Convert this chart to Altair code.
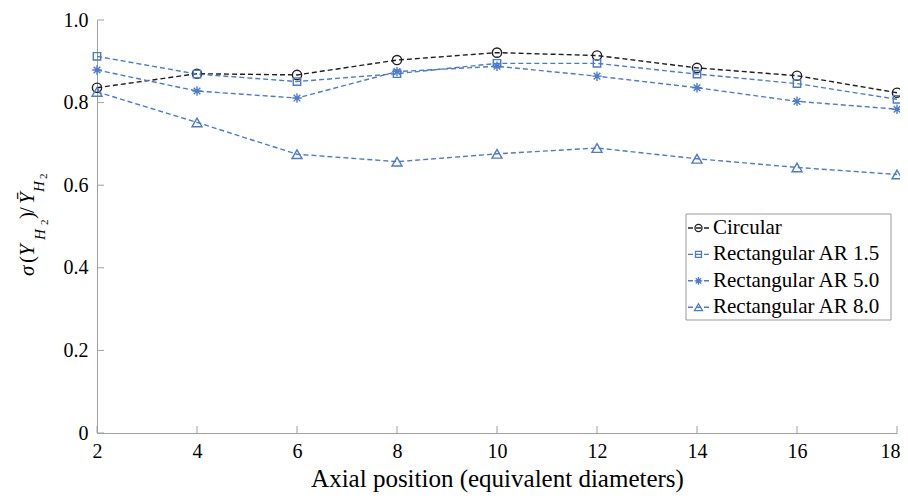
import altair as alt
import pandas as pd

# ---- data ----
x_pos = [2, 4, 6, 8, 10, 12, 14, 16, 18]
circular = [0.836, 0.870, 0.867, 0.903, 0.921, 0.914, 0.884, 0.865, 0.824]
ar15 = [0.912, 0.869, 0.851, 0.870, 0.895, 0.895, 0.869, 0.846, 0.808]
ar50 = [0.879, 0.828, 0.811, 0.875, 0.888, 0.864, 0.836, 0.803, 0.784]
ar80 = [0.826, 0.752, 0.675, 0.657, 0.676, 0.690, 0.664, 0.643, 0.626]

series_names = ["Circular", "Rectangular AR 1.5", "Rectangular AR 5.0", "Rectangular AR 8.0"]
series_values = [circular, ar15, ar50, ar80]
x_ticks = [2, 4, 6, 8, 10, 12, 14, 16, 18]
y_ticks = [0, 0.2, 0.4, 0.6, 0.8, 1.0]
x_title = "Axial position (equivalent diameters)"

# ---- styling ----
BLACK = "#1f1f1f"
BLUE = "#4a7bd0"
series_colors = [BLACK, BLUE, BLUE, BLUE]
ASTERISK = "M0,-1L0,1M-1,0L1,0M-0.7,-0.7L0.7,0.7M-0.7,0.7L0.7,-0.7"
shapes = ["circle", "square", ASTERISK, "triangle-up"]
plot_sizes = [85, 55, 90, 100]
legend_sizes = [50, 36, 60, 64]
FONT = "Liberation Serif"
GRAY = "#a0a0a0"
W, H = 800, 413

rows = []
for name, vals in zip(series_names, series_values):
    for xv, yv in zip(x_pos, vals):
        rows.append({"series": name, "x": xv, "y": yv})
df = pd.DataFrame(rows)

xs = alt.Scale(domain=[2, 18], nice=False, zero=False)
ys = alt.Scale(domain=[0, 1], nice=False, zero=False)
x_axis = alt.Axis(values=x_ticks, title=x_title, labelFlush=False,
                  labelPadding=8, titleBaseline="alphabetic", titleY=53,
                  labelAlign={"condition": {"test": "datum.value >= 18", "value": "right"}, "value": "center"},
                  labelOffset={"condition": {"test": "datum.value >= 18", "value": 3}, "value": 0})
y_axis = alt.Axis(values=y_ticks, title=None, labelPadding=9,
                  labelExpr="datum.value == 0 ? '0' : format(datum.value, '.1f')")

base = alt.Chart(df)

lines = base.mark_line(strokeDash=[5, 3], strokeWidth=1.4).encode(
    x=alt.X("x:Q", scale=xs, axis=x_axis),
    y=alt.Y("y:Q", scale=ys, axis=y_axis),
    color=alt.Color("series:N", scale=alt.Scale(domain=series_names, range=series_colors),
                    legend=None),
)

point_layers = []
for name, shape, size, col in zip(series_names, shapes, plot_sizes, series_colors):
    point_layers.append(
        base.transform_filter(alt.datum.series == name)
        .mark_point(shape=shape, size=size, filled=False, color=col, strokeWidth=1.4, opacity=1)
        .encode(x=alt.X("x:Q", scale=xs, axis=x_axis), y=alt.Y("y:Q", scale=ys, axis=y_axis))
    )

# inward ticks
xt = alt.Chart(pd.DataFrame({"x": x_ticks})).mark_rule(color=GRAY, strokeWidth=1).encode(
    x=alt.X("x:Q", scale=xs, axis=x_axis), y=alt.value(H), y2=alt.value(H - 7))
yt = alt.Chart(pd.DataFrame({"y": y_ticks})).mark_rule(color=GRAY, strokeWidth=1).encode(
    y=alt.Y("y:Q", scale=ys, axis=y_axis), x=alt.value(0), x2=alt.value(7))

one = pd.DataFrame({"a": [0]})

# legend
legend_layers = [
    alt.Chart(one).mark_rect(fill="white", stroke="#999999", strokeWidth=1).encode(
        x=alt.value(589), x2=alt.value(794), y=alt.value(194), y2=alt.value(300))
]
for i, (name, shape, size, col) in enumerate(zip(series_names, shapes, legend_sizes, series_colors)):
    ry = 208 + i * 26.4
    legend_layers.append(alt.Chart(one).mark_rule(strokeDash=[5, 3], color=col, strokeWidth=1.4).encode(
        x=alt.value(591), x2=alt.value(612), y=alt.value(ry)))
    legend_layers.append(alt.Chart(one).mark_point(shape=shape, size=size, filled=False, color=col,
                                                   strokeWidth=1.3, opacity=1).encode(
        x=alt.value(601.5), y=alt.value(ry)))
    legend_layers.append(alt.Chart(one).mark_text(text=name, align="left", baseline="middle",
                                                  font=FONT, fontSize=21, color="black").encode(
        x=alt.value(616), y=alt.value(ry)))

# y title pieces: (text, italic, size, page_y_start, page_baseline_x)
ytitle_pieces = [
    ("σ", True, 21, 276, 34),
    ("(", False, 21, 263, 34),
    ("Y", True, 21, 256, 34),
    ("H", True, 15, 240, 45),
    ("2", False, 11, 225, 48),
    (")", False, 21, 219, 34),
    ("/", False, 21, 213, 34),
    ("Ȳ", True, 21, 204, 34),
    ("H", True, 15, 192, 44),
    ("2", False, 11, 179, 47),
]
ytitle_layers = []
for txt, ital, fs, py, px in ytitle_pieces:
    ytitle_layers.append(alt.Chart(one).mark_text(
        text=txt, angle=270, align="left", baseline="alphabetic", font=FONT, fontSize=fs,
        fontStyle="italic" if ital else "normal", color="black").encode(
        x=alt.value(px - 97), y=alt.value(py - 20)))

chart = alt.layer(lines, *point_layers, xt, yt, *legend_layers, *ytitle_layers).properties(
    width=W, height=H,
    autosize=alt.AutoSizeParams(type="none"),
    padding={"left": 89, "top": 12, "right": 3, "bottom": 61},
).configure_view(stroke=None).configure_axis(
    domainColor=GRAY, domainWidth=1, ticks=False, tickSize=0, grid=False,
    labelFont=FONT, labelFontSize=20, labelColor="black",
    titleFont=FONT, titleFontSize=25, titleColor="black", titleFontWeight="normal",
)

chart.save("out.html", embed_options={"renderer": "svg", "actions": False})
